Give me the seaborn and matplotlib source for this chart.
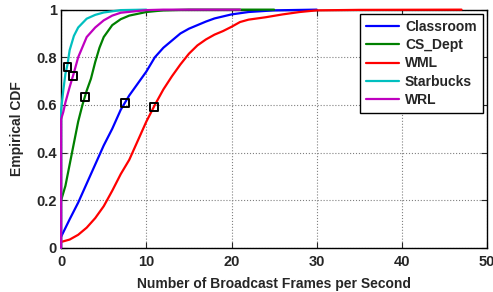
import pandas as pd
import matplotlib
matplotlib.use("Agg")
import matplotlib.pyplot as plt
import seaborn as sns
import numpy as np

# Data (empirical CDFs)
classroom_x = [0, 1, 2, 3, 4, 5, 6, 7, 8, 9, 10, 11, 12, 13, 14, 15, 16, 17, 18, 20, 22, 25, 30]
classroom_y = [0.047, 0.12, 0.19, 0.27, 0.35, 0.43, 0.50, 0.58, 0.64, 0.69, 0.74, 0.80, 0.84,
               0.87, 0.90, 0.92, 0.935, 0.95, 0.963, 0.98, 0.99, 0.997, 1.0]

csdept_x = [0, 0.5, 1, 1.5, 2, 2.5, 3, 3.5, 4, 4.5, 5, 6, 7, 8, 10, 12, 15, 25]
csdept_y = [0.2, 0.26, 0.35, 0.44, 0.53, 0.60, 0.66, 0.71, 0.78, 0.84, 0.885, 0.935, 0.96,
            0.975, 0.99, 0.997, 1.0, 1.0]

wml_x = [0, 1, 2, 3, 4, 5, 6, 7, 8, 9, 10, 11, 12, 13, 14, 15, 16, 17, 18, 19, 20, 21, 22,
         24, 26, 28, 30, 35, 47]
wml_y = [0.025, 0.035, 0.055, 0.085, 0.125, 0.175, 0.24, 0.31, 0.37, 0.45, 0.53, 0.60, 0.665,
         0.72, 0.77, 0.815, 0.85, 0.875, 0.895, 0.91, 0.928, 0.948, 0.958, 0.968, 0.98, 0.99,
         0.997, 0.999, 1.0]

starbucks_x = [0, 0, 0.25, 0.5, 0.75, 1, 1.5, 2, 3, 4, 5, 7, 10]
starbucks_y = [0, 0.58, 0.66, 0.73, 0.77, 0.83, 0.89, 0.925, 0.962, 0.978, 0.988, 0.998, 1.0]

wrl_x = [0, 0, 0.25, 0.5, 1, 1.5, 2, 3, 4, 5, 6, 7, 10, 12, 21]
wrl_y = [0, 0.54, 0.57, 0.61, 0.675, 0.735, 0.80, 0.885, 0.925, 0.955, 0.975, 0.987, 0.998, 1.0, 1.0]

# mean markers (x, y on the curve)
mean_x = [7.47, 2.78, 10.9, 0.74, 1.41]
mean_y = [0.609, 0.633, 0.592, 0.76, 0.722]

names = ["Classroom", "CS_Dept", "WML", "Starbucks", "WRL"]
colors = ["#0000ff", "#008000", "#ff0000", "#00bfbf", "#bf00bf"]

series = [(classroom_x, classroom_y), (csdept_x, csdept_y), (wml_x, wml_y),
          (starbucks_x, starbucks_y), (wrl_x, wrl_y)]
frames = []
for name, (xs, ys) in zip(names, series):
    frames.append(pd.DataFrame({"x": xs, "y": ys, "trace": name}))
df = pd.concat(frames, ignore_index=True)

sns.set_style("ticks")
plt.rcParams['font.family'] = ['Liberation Sans', 'DejaVu Sans']
plt.rcParams['font.weight'] = 'bold'

fig, ax = plt.subplots(figsize=(4.93, 2.92), dpi=100)
fig.subplots_adjust(left=0.124, right=0.988, bottom=0.151, top=0.967)

sns.lineplot(data=df, x="x", y="y", hue="trace", palette=colors, hue_order=names,
             estimator=None, linewidth=1.6, ax=ax, zorder=3)
# curves sit on top of the box, like the MATLAB original
for ln in ax.get_lines():
    ln.set_clip_on(False)
sns.scatterplot(x=mean_x, y=mean_y, marker="s", s=30, facecolor="none",
                edgecolor="black", linewidth=1.4, ax=ax, legend=False, zorder=5)

ax.set_xlim(0, 50)
ax.set_ylim(0, 1)
ax.set_xticks([0, 10, 20, 30, 40, 50])
ax.set_yticks([0, 0.2, 0.4, 0.6, 0.8, 1])
ax.set_yticklabels(["0", "0.2", "0.4", "0.6", "0.8", "1"])
ax.tick_params(direction="in", length=4, width=0.8, labelsize=10.5, top=True, right=True)
ax.tick_params(axis="y", pad=3)
ax.tick_params(axis="x", pad=5)
for lbl in ax.get_xticklabels() + ax.get_yticklabels():
    lbl.set_fontweight("bold")
ax.grid(True, linestyle=":", color="#808080", linewidth=0.8)
for s in ax.spines.values():
    s.set_visible(True)
    s.set_color("black")
    s.set_linewidth(1.0)

ax.set_xlabel("Number of Broadcast Frames per Second", fontsize=10, fontweight="bold", labelpad=6)
ax.set_ylabel("Empirical CDF", fontsize=10, fontweight="bold", labelpad=9)

leg = ax.legend(loc="upper right", fontsize=10, frameon=True, fancybox=False,
                edgecolor="black", framealpha=1, borderaxespad=0.3, labelspacing=0.3,
                handlelength=2.4, handletextpad=0.4, borderpad=0.45)
leg.get_frame().set_linewidth(1.0)
for t in leg.get_texts():
    t.set_fontweight("bold")

plt.savefig("out.png", dpi=100)
